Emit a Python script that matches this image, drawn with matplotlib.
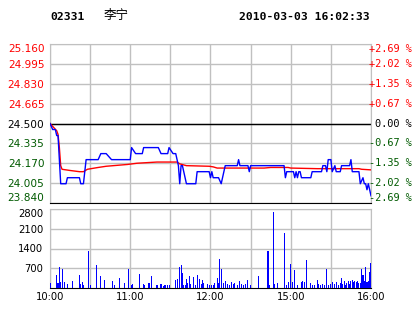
import matplotlib.pyplot as plt
import matplotlib.transforms as mtransforms

# header texts
code = '02331'
name = '李宁'
stamp = '2010-03-03 16:02:33'

prev_close = 24.50
price_levels = [25.160, 24.995, 24.830, 24.665, 24.500, 24.335, 24.170, 24.005, 23.840]
pct_labels = ['+2.69 %', '+2.02 %', '+1.35 %', '+0.67 %', '0.00 %',
              '-0.67 %', '-1.35 %', '-2.02 %', '-2.69 %']
vol_levels = [700, 1400, 2100, 2800]
time_ticks = [0, 60, 120, 180, 240]
time_labels = ['10:00', '11:00', '12:00', '15:00', '16:00']

# last price (minute index from 10:00, HK session 10:00-12:30 + 14:30-16:00)
price_min = [0, 2, 4, 5, 6, 7, 8, 12, 13, 22, 23, 25, 26, 27, 36, 38, 42, 46, 60, 61,
             64, 69, 70, 81, 83, 88, 89, 92, 94, 95, 96, 97, 98, 99, 100, 102, 109, 110, 119, 120,
             121, 122, 126, 128, 129, 130, 131, 140, 141, 142, 148, 149, 150, 175, 176, 177, 182, 183, 184, 185,
             186, 187, 188, 195, 196, 203, 204, 206, 207, 208, 210, 211, 213, 214, 217, 218, 224, 225, 226, 231,
             232, 234, 235, 236, 237, 238, 239, 240]
price_val = [24.50, 24.45, 24.45, 24.40, 24.40, 24.20, 24.00, 24.00, 24.05, 24.05, 24.00, 24.00, 24.10, 24.20, 24.20, 24.25, 24.25, 24.20, 24.20, 24.30,
             24.25, 24.25, 24.30, 24.30, 24.25, 24.25, 24.30, 24.25, 24.25, 24.20, 24.15, 24.00, 24.15, 24.15, 24.10, 24.00, 24.00, 24.10, 24.10, 24.05,
             24.10, 24.05, 24.05, 24.00, 24.05, 24.10, 24.15, 24.15, 24.20, 24.15, 24.15, 24.10, 24.15, 24.15, 24.05, 24.10, 24.10, 24.05, 24.10, 24.05,
             24.10, 24.10, 24.05, 24.05, 24.10, 24.10, 24.15, 24.15, 24.10, 24.20, 24.20, 24.10, 24.15, 24.10, 24.10, 24.15, 24.15, 24.20, 24.10, 24.10,
             24.00, 24.05, 24.00, 24.00, 23.95, 24.00, 23.95, 23.90]

# average price
avg_min = [0, 5, 6, 7, 8, 9, 15, 22, 25, 28, 36, 42, 58, 65, 80, 95, 97, 102, 119, 122,
           125, 150, 160, 165, 178, 180, 200, 231, 233, 240]
avg_val = [24.50, 24.44, 24.41, 24.30, 24.15, 24.12, 24.11, 24.10, 24.10, 24.12, 24.135, 24.145, 24.16, 24.17, 24.18, 24.18, 24.165, 24.15, 24.145, 24.14,
           24.13, 24.13, 24.13, 24.135, 24.135, 24.13, 24.125, 24.125, 24.12, 24.115]

# volume per minute
vol_min = [0, 5, 6, 7, 8, 9, 11, 13, 17, 22, 23, 24, 25, 29, 30, 35, 38, 41, 47, 48,
           52, 56, 59, 61, 62, 67, 70, 71, 74, 76, 80, 83, 85, 86, 88, 89, 94, 95, 97, 98,
           99, 100, 101, 102, 103, 104, 105, 107, 109, 110, 112, 113, 114, 115, 118, 119, 121, 122, 123, 125,
           126, 127, 128, 130, 131, 133, 134, 136, 137, 138, 140, 142, 143, 145, 146, 148, 150, 156, 163, 164,
           167, 168, 170, 175, 177, 178, 180, 181, 183, 185, 188, 189, 190, 192, 195, 196, 198, 200, 201, 202,
           204, 205, 207, 208, 210, 211, 213, 214, 216, 217, 218, 219, 220, 221, 222, 223, 224, 225, 226, 227,
           228, 229, 230, 231, 232, 233, 234, 235, 236, 237, 238, 239, 240]
vol_val = [180, 470, 180, 750, 210, 690, 210, 150, 260, 470, 140, 210, 90, 1320, 90, 830, 440, 300, 260, 90,
           370, 170, 690, 90, 130, 510, 140, 90, 180, 410, 90, 140, 80, 90, 90, 90, 300, 320, 750, 830,
           540, 90, 90, 320, 180, 440, 140, 400, 90, 470, 330, 140, 300, 190, 140, 90, 90, 120, 180, 350,
           180, 1040, 690, 180, 260, 140, 90, 210, 140, 180, 120, 260, 140, 90, 140, 300, 120, 440, 1320, 90,
           2680, 140, 180, 1950, 90, 210, 860, 210, 650, 120, 210, 260, 210, 1000, 180, 120, 90, 300, 140, 120,
           140, 120, 690, 120, 140, 210, 140, 210, 120, 180, 350, 140, 240, 120, 180, 260, 140, 240, 300, 210,
           260, 210, 240, 180, 180, 690, 470, 260, 730, 210, 240, 570, 900]

red = '#ff0000'
green = '#005a00'
grid_c = '#c0c0c0'

fig = plt.figure(figsize=(4.14, 3.14), dpi=100)
fig.patch.set_facecolor('white')

W, H = 414.0, 314.0
ax = fig.add_axes([50 / W, (H - 203) / H, 321 / W, 159 / H])
axv = fig.add_axes([50 / W, (H - 288) / H, 321 / W, 79 / H])

# ---- price pane
ax.set_xlim(0, 240)
ax.set_ylim(price_levels[-1], price_levels[0])
ax.set_yticks(price_levels)
ax.set_yticklabels(['%.3f' % v for v in price_levels])
ax.set_xticks(time_ticks)
ax.set_xticks([30, 90, 150, 210], minor=True)
ax.tick_params(which='both', length=0, labelbottom=False)
ax.tick_params(axis='y', pad=4, labelsize=7.6)
ax.grid(True, which='both', color=grid_c, linewidth=1)
ax.set_axisbelow(True)
for side in ['left', 'right', 'top']:
    ax.spines[side].set_color(grid_c)
ax.spines['bottom'].set_color('black')
ax.axhline(prev_close, color='black', linewidth=1, zorder=2)

for lab, v in zip(ax.get_yticklabels(), price_levels):
    if v > prev_close + 1e-6:
        lab.set_color(red)
    elif v < prev_close - 1e-6:
        lab.set_color(green)
    else:
        lab.set_color('black')
ax.get_yticklabels()[0].set_va('top')
ax.get_yticklabels()[-1].set_va('bottom')

trans = mtransforms.blended_transform_factory(ax.transAxes, ax.transData)
for i, (v, t) in enumerate(zip(price_levels, pct_labels)):
    c = red if t.startswith('+') else (green if t.startswith('-') else 'black')
    va = 'top' if i == 0 else ('bottom' if i == len(price_levels) - 1 else 'center')
    ax.text(1.128, v, t, transform=trans, ha='right', va=va, color=c,
            fontsize=7.4, family='DejaVu Sans Mono', clip_on=False)

ax.plot(avg_min, avg_val, color=red, linewidth=1.0, zorder=3)
ax.plot(price_min, price_val, color='#0000ff', linewidth=1.0, zorder=4)

# ---- volume pane
axv.bar(vol_min, vol_val, width=0.8, color='#0000ff', linewidth=0, zorder=3)
axv.set_xlim(0, 240)
axv.set_ylim(0, 2800)
axv.set_yticks(vol_levels)
axv.set_yticklabels([str(v) for v in vol_levels])
axv.set_xticks(time_ticks)
axv.set_xticklabels(time_labels)
axv.set_xticks([30, 90, 150, 210], minor=True)
axv.tick_params(which='both', length=0, labelsize=7.2)
axv.tick_params(axis='y', pad=5)
axv.tick_params(axis='x', pad=3)
axv.grid(True, which='both', color=grid_c, linewidth=1)
axv.set_axisbelow(True)
for side in ['left', 'right', 'top']:
    axv.spines[side].set_color(grid_c)
axv.spines['bottom'].set_color('black')
axv.get_yticklabels()[-1].set_va('top')

# ---- header
fig.text(50 / W, 1 - 17 / H, code, fontsize=8.2, fontweight='bold',
         family='DejaVu Sans Mono', va='center', ha='left')
fig.text(104 / W, 1 - 16 / H, name, fontsize=9, family=['Noto Sans CJK SC', 'DejaVu Sans'],
         va='center', ha='left')
fig.text(370 / W, 1 - 17 / H, stamp, fontsize=8.2, fontweight='bold',
         family='DejaVu Sans Mono', va='center', ha='right')

fig.savefig('out.png', dpi=100, facecolor='white')
